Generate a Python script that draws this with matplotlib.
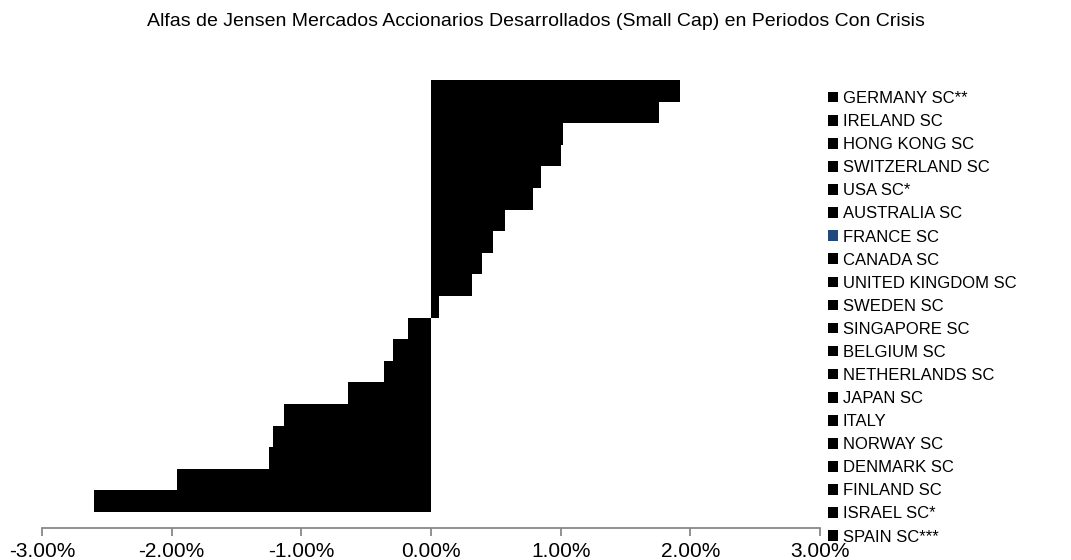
import matplotlib
matplotlib.use("Agg")
import matplotlib.pyplot as plt
from matplotlib.patches import Patch
from matplotlib.ticker import FuncFormatter

plt.rcParams['font.family'] = ['Liberation Sans', 'DejaVu Sans']

# data, top to bottom as in the chart
paises = ["GERMANY SC**", "IRELAND SC", "HONG KONG SC", "SWITZERLAND SC", "USA SC*",
          "AUSTRALIA SC", "FRANCE SC", "CANADA SC", "UNITED KINGDOM SC", "SWEDEN SC",
          "SINGAPORE SC", "BELGIUM SC", "NETHERLANDS SC", "JAPAN SC", "ITALY",
          "NORWAY SC", "DENMARK SC", "FINLAND SC", "ISRAEL SC*", "SPAIN SC***"]
alfas = [1.92, 1.76, 1.02, 1.00, 0.85, 0.79, 0.57, 0.48, 0.39, 0.32,
         0.06, -0.18, -0.29, -0.36, -0.64, -1.13, -1.22, -1.25, -1.96, -2.60]
colores_leyenda = ["black"] * 6 + ["#1f497d"] + ["black"] * 13

fig = plt.figure(figsize=(10.71, 5.6), dpi=100)
ax = fig.add_axes([42 / 1071, 1 - 528 / 560, (820 - 42) / 1071, (528 - 64) / 560])

n = len(paises)
pos = [n - 1 - i for i in range(n)]
ax.barh(pos, alfas, height=1.0, color="black", edgecolor="none")

ax.set_xlim(-3, 3)
ax.set_ylim(-0.74 - 0.5, n - 0.5 + 0.74)
ax.set_xticks([-3, -2, -1, 0, 1, 2, 3])
ax.xaxis.set_major_formatter(FuncFormatter(lambda v, p: "%.2f%%" % v))
ax.set_yticks([])
for s in ["left", "top", "right"]:
    ax.spines[s].set_visible(False)
ax.spines["bottom"].set_color("#888888")
ax.spines["bottom"].set_linewidth(1.3)
ax.tick_params(axis="x", direction="out", length=6, width=1.3, color="#888888",
               labelsize=15, pad=4)

fig.text(0.5, 1 - 21 / 560, "Alfas de Jensen Mercados Accionarios Desarrollados (Small Cap) en Periodos Con Crisis",
         ha="center", va="center", fontsize=14)

handles = [Patch(facecolor=c, edgecolor="none") for c in colores_leyenda]
fig.legend(handles, paises, loc="upper left", bbox_to_anchor=(828 / 1071, 1 - 91 / 560),
           frameon=False, fontsize=12, handlelength=0.6, handleheight=0.6,
           handletextpad=0.3, labelspacing=0.485, borderaxespad=0, borderpad=0)

fig.savefig("out.png", dpi=100)
